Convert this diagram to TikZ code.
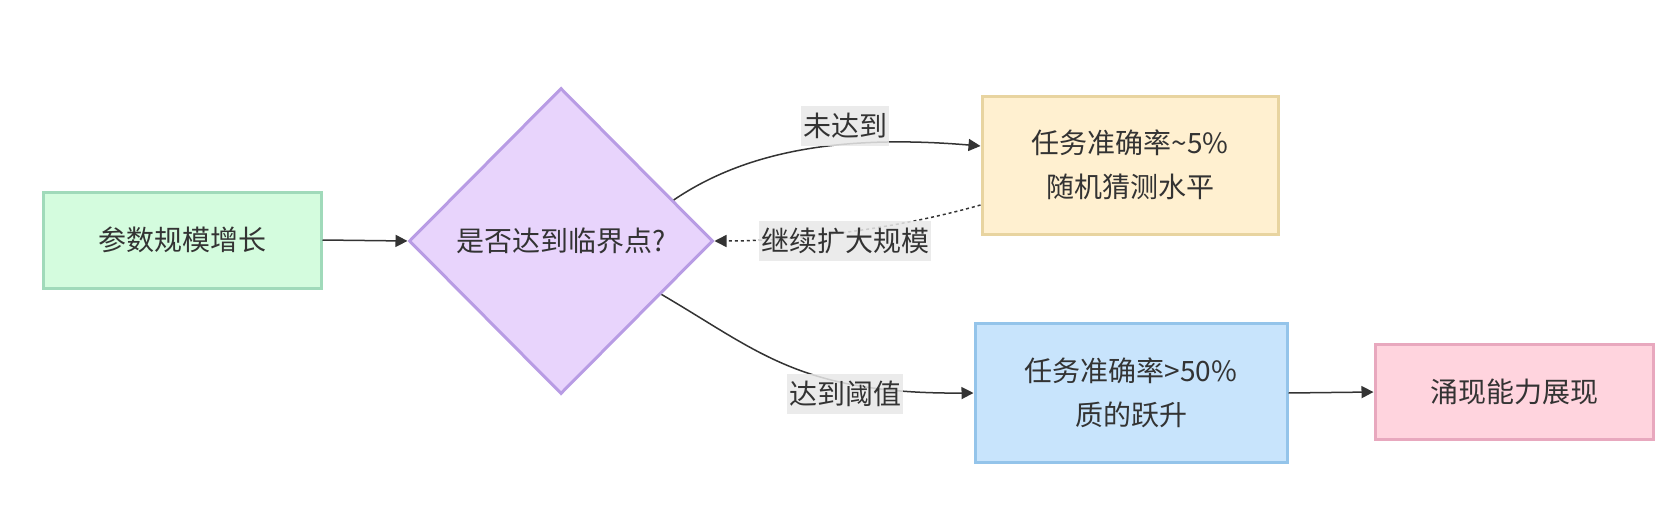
\documentclass[tikz,border=0pt]{standalone}
\usepackage{fontspec}
\setmainfont{Noto Sans CJK SC}
\usetikzlibrary{shapes.geometric, arrows.meta}

\definecolor{txt}{RGB}{51,51,51}
\definecolor{lblgray}{RGB}{232,232,232}
\definecolor{grnfill}{RGB}{212,252,222}
\definecolor{grnline}{RGB}{160,218,186}
\definecolor{purfill}{RGB}{232,212,252}
\definecolor{purline}{RGB}{184,156,228}
\definecolor{yelfill}{RGB}{255,240,208}
\definecolor{yelline}{RGB}{232,212,160}
\definecolor{blufill}{RGB}{200,228,252}
\definecolor{bluline}{RGB}{148,196,234}
\definecolor{pnkfill}{RGB}{255,212,222}
\definecolor{pnkline}{RGB}{232,168,190}

\tikzset{
  box/.style={draw, line width=1.5pt, inner sep=0pt, align=center, text=txt},
  lbl/.style={fill=lblgray, fill opacity=0.85, text opacity=1, text=txt,
    inner xsep=1pt, inner ysep=0pt, minimum height=20pt},
  flow/.style={draw=txt, line width=0.75pt, -{Triangle[length=6pt,width=6pt]}}
}

\begin{document}
\begin{tikzpicture}[x=0.5pt, y=-0.5pt, font=\fontsize{14}{22}\selectfont]
    \useasboundingbox (0,0) rectangle (1670,514);

    % Boxes
    \node[box, fill=grnfill, draw=grnline, minimum width=139pt, minimum height=48pt] (grow) at (182,240) {参数规模增长};
    \node[diamond, shape aspect=1, draw=purline, fill=purfill, line width=1.5pt, inner sep=0pt,
      minimum width=152pt, minimum height=153pt, text=txt] (crit) at (561,241) {是否达到临界点?};
    \node[box, fill=yelfill, draw=yelline, minimum width=148pt, minimum height=69pt] (rand) at (1130,165) {任务准确率\textasciitilde5\%\\随机猜测水平};
    \node[box, fill=blufill, draw=bluline, minimum width=156pt, minimum height=69.5pt] (leap) at (1131,393) {任务准确率>50\%\\质的跃升};
    \node[box, fill=pnkfill, draw=pnkline, minimum width=139pt, minimum height=47.5pt] (emerge) at (1514,392) {涌现能力展现};

    % Connectors
    \draw[flow] (grow.east) -- (crit.west);
    \draw[flow] (crit.20) .. controls (750,148) and (850,135) .. ([yshift=9.5pt]rand.west);
    \draw[flow, dash pattern=on 1.5pt off 1.5pt] ([yshift=-20pt]rand.west) .. controls (900,228) and (800,241) .. (crit.east);
    \draw[flow] (crit.-28) .. controls (760,352) and (800,394) .. (leap.west);
    \draw[flow] (leap.east) -- (emerge.west);

    % Edge labels
    \node[lbl] (nope) at (845,126) {未达到};
    \node[lbl] (more) at (845,241) {继续扩大规模};
    \node[lbl] (hit) at (845,394) {达到阈值};
\end{tikzpicture}
\end{document}
